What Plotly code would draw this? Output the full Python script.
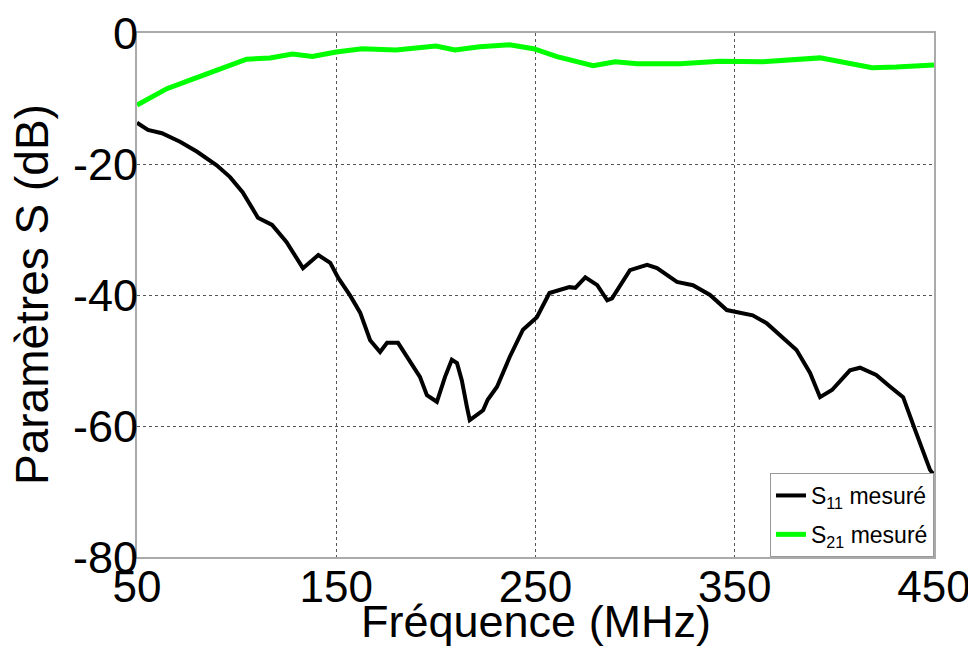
import plotly.graph_objects as go

freq_s11 = [50, 55.5, 62.5, 71.6, 80, 90, 96.7, 103, 110.7, 117.8, 125, 130, 133.3, 141, 147, 151,
            157, 162, 167, 172, 175.5, 181, 185.5, 192, 195.5, 200.5, 204.6, 208, 210.6, 213, 215.6,
            217, 220.6, 223.7, 226, 230.7, 237, 243.7, 250.7, 257, 267, 270, 275, 281, 286, 288.4,
            297.4, 306, 311, 321, 329, 337.6, 346, 353.6, 359, 366, 374, 381, 387.8, 392.8, 398.8,
            407.8, 412.9, 421, 428, 434.5, 440.5, 444.5, 448, 450]
s11_db = [-13.7, -14.8, -15.3, -16.6, -18.1, -20.2, -22.0, -24.3, -28.2, -29.3, -31.9, -34.4, -35.9,
          -33.9, -35.1, -37.4, -40.1, -42.7, -46.9, -48.7, -47.3, -47.3, -49.5, -52.5, -55.3, -56.3,
          -52.5, -49.9, -50.4, -53.0, -57.1, -59.1, -58.3, -57.6, -56.0, -54.0, -49.5, -45.3, -43.4,
          -39.7, -38.8, -38.9, -37.3, -38.5, -40.8, -40.5, -36.2, -35.4, -35.9, -38.0, -38.5, -40.0,
          -42.3, -42.7, -43.1, -44.3, -46.4, -48.4, -51.9, -55.6, -54.5, -51.5, -51.1, -52.2, -54.0,
          -55.6, -60.6, -63.7, -66.7, -67.5]

freq_s21 = [50, 56.5, 65, 76.6, 91.7, 105, 116.7, 128, 138, 150, 163, 180, 200, 209.6, 222, 237,
            249, 260.8, 278.9, 290, 301, 322.5, 342.6, 364, 392.8, 404, 419, 431, 450]
s21_db = [-11.0, -9.9, -8.5, -7.2, -5.4, -4.0, -3.8, -3.2, -3.6, -2.9, -2.4, -2.6, -2.0, -2.6, -2.1,
          -1.8, -2.4, -3.6, -5.0, -4.4, -4.7, -4.7, -4.3, -4.4, -3.8, -4.4, -5.3, -5.2, -4.9]

x_ticks = [50, 150, 250, 350, 450]
y_ticks = [0, -20, -40, -60, -80]

FONT = "Liberation Sans, Arial, sans-serif"

fig = go.Figure()
fig.add_trace(go.Scatter(x=freq_s11, y=s11_db, mode="lines", name="S<sub>11</sub> mesuré",
                         legendgroup="a", line=dict(color="black", width=4)))
fig.add_trace(go.Scatter(x=freq_s21, y=s21_db, mode="lines", name="S<sub>21</sub> mesuré",
                         legendgroup="b", line=dict(color="#00ff00", width=5)))

# page body has an 8px margin, so the figure is 968x644 placed at (8, 8)
fig.update_layout(
    width=968, height=644,
    margin=dict(l=129, r=42, t=25, b=95, autoexpand=False),
    plot_bgcolor="white", paper_bgcolor="white",
    font=dict(family=FONT, color="black"),
    showlegend=True,
    legend=dict(x=1, y=0, xanchor="right", yanchor="bottom",
                bgcolor="white", bordercolor="#999999", borderwidth=1,
                font=dict(family=FONT, size=23, color="black"),
                itemwidth=30, tracegroupgap=6),
    xaxis=dict(range=[50, 450], tickvals=x_ticks, ticktext=[str(v) for v in x_ticks],
               showgrid=True, gridcolor="#555555", griddash="dot", gridwidth=1,
               showline=True, linecolor="#aaaaaa", linewidth=2, mirror=True,
               ticks="", zeroline=False, ticklabelstandoff=-10, ticklabeloverflow="allow",
               tickfont=dict(family=FONT, size=44)),
    yaxis=dict(range=[-80, 0], tickvals=y_ticks, ticktext=[str(v) for v in y_ticks],
               showgrid=True, gridcolor="#555555", griddash="dot", gridwidth=1,
               showline=True, linecolor="#aaaaaa", linewidth=2, mirror=True,
               ticks="", zeroline=False, ticklabelstandoff=-12, ticklabeloverflow="allow",
               tickfont=dict(family=FONT, size=45)),
    annotations=[
        dict(text="Fréquence (MHz)", xref="paper", yref="paper", x=0.5, y=0,
             xanchor="center", yanchor="top", yshift=-37, showarrow=False,
             font=dict(family=FONT, size=45)),
        dict(text="Paramètres S (dB)", xref="paper", yref="paper", x=0, y=0.5,
             xanchor="right", yanchor="middle", xshift=-77, textangle=-90, showarrow=False,
             font=dict(family=FONT, size=46)),
    ],
)

fig.write_html("out.html")
